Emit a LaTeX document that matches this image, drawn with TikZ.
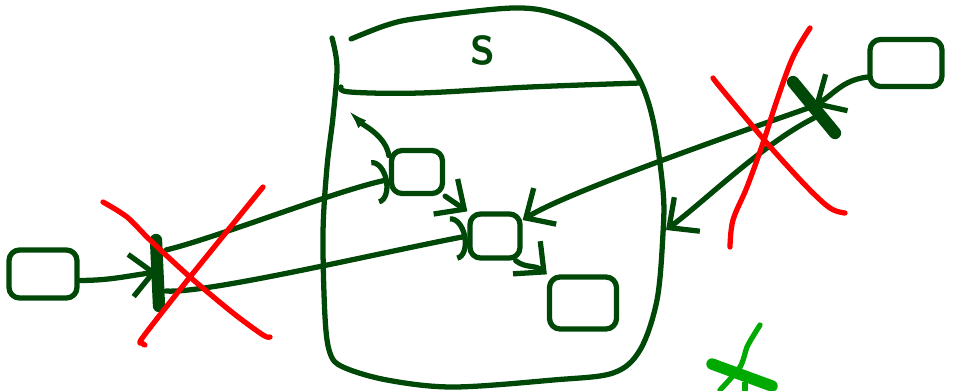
\documentclass[tikz,border=0pt]{standalone}
\usepackage{tikz}
\usetikzlibrary{arrows.meta, positioning, calc}
\definecolor{inkgreen}{RGB}{0, 72, 8}
\definecolor{inkred}{RGB}{255, 0, 0}
\definecolor{inklime}{RGB}{0, 170, 0}

\begin{document}
\begin{tikzpicture}[
        x=0.02cm, y=-0.02cm,
        ink/.style={draw=inkgreen, line width=3pt, line cap=round, line join=round},
        cross/.style={draw=inkred, line width=3pt, line cap=round, line join=round},
        box/.style={ink, rounded corners=6pt, inner sep=0pt},
        bar/.style={draw=inkgreen, line width=7pt, line cap=round},
        arr/.style={ink, -{Straight Barb[length=4.5mm, width=8.5mm]}},
        carr/.style={ink, -{Arc Barb[length=2.8mm, width=9mm]}},
    ]
        \useasboundingbox (0,0) rectangle (955,390);

        % --- Container S ---
        \draw[ink] plot[smooth, tension=0.55] coordinates {(332,38) (337,67) (333,117) (327,167) (323,233) (325,317) (330,353) (343,367) (387,380) (453,387) (553,380) (613,373) (640,350) (657,300) (663,233) (663,190) (653,120) (637,75) (607,38) (560,15) (513,8) (420,18) (387,25) (351,39)};
        \draw[ink] plot[smooth, tension=0.6] coordinates {(341,87) (350,92) (420,93) (530,87) (640,83)};
        \node[text=inkgreen, font=\sffamily\bfseries\fontsize{23}{25}\selectfont] (slabel) at (483,50) {S};

        % --- Boxes ---
        \node[box, minimum width=1.36cm, minimum height=0.96cm] (src) at (43,274) {};
        \node[box, minimum width=1.02cm, minimum height=0.86cm] (inA) at (417,172) {};
        \node[box, minimum width=1.0cm, minimum height=0.88cm] (hub) at (495,236) {};
        \node[box, minimum width=1.34cm, minimum height=1.04cm] (sink) at (583,303) {};
        \node[box, minimum width=1.44cm, minimum height=0.94cm] (ext) at (906,63) {};

        % --- Left gate ---
        \coordinate (gateL) at (157,272);
        \coordinate (gateLa) at (166,250);
        \coordinate (gateLb) at (166,291);
        \draw[bar] ($(gateL)+(-1,-32)$) -- ($(gateL)+(2,34)$);
        \draw[arr] (src.-10) .. controls +(30,0) and +(-30,4) .. (gateL);
        \draw[carr] (gateLa) .. controls +(50,-12) and +(-50,10) .. (inA.195);
        \draw[carr] (gateLb) .. controls +(40,3) and +(-80,15) .. (hub.west);

        % --- Inside S ---
        \coordinate (aOut) at (348,110);
        \draw[ink, -{Latex[length=4mm, width=2.2mm]}] (inA.150) .. controls +(-3,-20) and +(15,15) .. (aOut);
        \draw[arr] (inA.south east) -- (hub.north west);
        \draw[arr] (hub.-50) .. controls +(10,8) and +(-12,-10) .. (sink.north west);

        % --- Right gate ---
        \coordinate (gateR) at (814,106);
        \coordinate (gateRb) at (814,118);
        \coordinate (sEdge) at (666,230);
        \draw[bar] ($(gateR)+(-21,-24)$) -- ($(gateR)+(21,27)$);
        \draw[arr] (ext.200) .. controls +(-25,3) and +(20,-12) .. (gateR);
        \draw[arr] (gateR) .. controls +(-120,42) and +(40,-25) .. (hub.30);
        \draw[arr] (gateRb) .. controls +(-50,25) and +(40,-30) .. (sEdge);

        % --- Crosses ---
        \draw[cross] plot[smooth, tension=0.5] coordinates {(103,202) (127,217) (150,240) (190,277) (233,313) (263,335) (270,337)};
        \draw[cross] plot[smooth, tension=0.5] coordinates {(263,187) (190,277) (143,337) (142,343) (145,345)};
        \draw[cross] plot[smooth, tension=0.6] coordinates {(713,78) (720,87) (750,123) (773,150) (807,187) (830,208) (845,213)};
        \draw[cross] plot[smooth, tension=0.6] coordinates {(810,28) (793,57) (777,100) (763,143) (747,187) (733,220) (730,247)};

        % --- Green mark ---
        \draw[draw=inklime, line width=3pt, line cap=round] plot[smooth] coordinates {(760,325) (755,333) (747,347) (740,367) (720,390)};
        \draw[draw=inklime, line width=6.5pt, line cap=round] (712,364) -- (772,386);
        \draw[draw=inklime, line width=3pt] (745,382) -- (745,392);
    \end{tikzpicture}
\end{document}
